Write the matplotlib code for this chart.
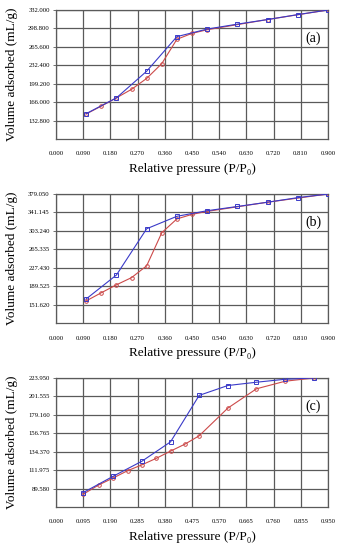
import matplotlib
matplotlib.use("Agg")
import matplotlib.pyplot as plt
import numpy as np

# ---- data (relative pressure, volume adsorbed mL/g) ----
# panel (a)
a_ads_x = [0.10, 0.20, 0.30, 0.40, 0.50, 0.60, 0.70, 0.80, 0.90]
a_ads_y = [145.3, 173.7, 221.7, 284.0, 297.6, 306.5, 314.8, 323.7, 332.0]
a_des_x = [0.10, 0.15, 0.20, 0.25, 0.30, 0.35, 0.40, 0.45, 0.50, 0.70, 0.90]
a_des_y = [144.7, 158.9, 173.7, 189.1, 208.7, 235.4, 279.2, 289.9, 296.4, 314.8, 332.0]
a_yticks = [132.8, 166.0, 199.2, 232.4, 265.6, 298.8, 332.0]
a_xticks = [0.0, 0.09, 0.18, 0.27, 0.36, 0.45, 0.54, 0.63, 0.72, 0.81, 0.90]

# panel (b)
b_ads_x = [0.10, 0.20, 0.30, 0.40, 0.50, 0.60, 0.70, 0.80, 0.90]
b_ads_y = [163.3, 212.5, 307.6, 333.2, 344.7, 353.4, 362.2, 371.6, 379.05]
b_des_x = [0.10, 0.15, 0.20, 0.25, 0.30, 0.35, 0.40, 0.45, 0.50, 0.70, 0.90]
b_des_y = [159.2, 176.0, 192.3, 207.1, 231.4, 299.5, 327.8, 337.2, 343.3, 362.2, 379.05]
b_yticks = [151.62, 189.525, 227.43, 265.335, 303.24, 341.145, 379.05]
b_xticks = [0.0, 0.09, 0.18, 0.27, 0.36, 0.45, 0.54, 0.63, 0.72, 0.81, 0.90]

# panel (c)
c_ads_x = [0.094, 0.20, 0.30, 0.40, 0.50, 0.60, 0.70, 0.80, 0.90]
c_ads_y = [84.5, 104.6, 122.8, 146.3, 202.8, 214.8, 218.8, 222.4, 223.95]
c_des_x = [0.094, 0.15, 0.20, 0.25, 0.30, 0.35, 0.40, 0.45, 0.50, 0.60, 0.70, 0.80, 0.90]
c_des_y = [82.5, 94.1, 102.5, 111.3, 118.4, 126.3, 135.1, 143.5, 153.7, 187.3, 210.8, 220.0, 223.95]
c_yticks = [89.58, 111.975, 134.37, 156.765, 179.16, 201.555, 223.95]
c_xticks = [0.0, 0.095, 0.19, 0.285, 0.38, 0.475, 0.57, 0.665, 0.76, 0.855, 0.95]

SERIF = ["Liberation Serif", "DejaVu Serif"]
plt.rcParams["font.family"] = SERIF
BLUE = "#3a3ac8"
RED = "#cc4a4a"
GRID = "#5a5a5a"

panels = [
    ("(a)", a_ads_x, a_ads_y, a_des_x, a_des_y, a_yticks, a_xticks, 0.7473),
    ("(b)", b_ads_x, b_ads_y, b_des_x, b_des_y, b_yticks, b_xticks, 0.4127),
    ("(c)", c_ads_x, c_ads_y, c_des_x, c_des_y, c_yticks, c_xticks, 0.0782),
]

fig = plt.figure(figsize=(3.4, 5.5), dpi=100)
for tag, ax_x, ax_y, de_x, de_y, yt, xt, bot in panels:
    ax = fig.add_axes([56 / 340, bot, 272 / 340, 129 / 550])
    step = yt[1] - yt[0]
    ax.set_ylim(yt[0] - step, yt[-1])
    ax.set_xlim(xt[0], xt[-1])
    ax.set_yticks(yt)
    ax.set_xticks(xt)
    ax.set_yticklabels([f"{v:.3f}" for v in yt])
    ax.set_xticklabels([f"{v:.3f}" for v in xt])
    ax.grid(True, color=GRID, lw=0.9)
    ax.set_axisbelow(True)
    for s in ax.spines.values():
        s.set_color(GRID)
        s.set_linewidth(0.9)
    ax.tick_params(axis="y", length=2.0, width=0.6, color=GRID, pad=2.5, labelsize=4.8)
    ax.tick_params(axis="x", length=0, pad=9, labelsize=4.8)

    ax.plot(de_x, de_y, color=RED, lw=0.8, marker="o", ms=2.6, mfc="none", mew=0.7, zorder=3)
    ax.plot(ax_x, ax_y, color=BLUE, lw=0.8, marker="s", ms=3.0, mfc="none", mew=0.7, zorder=4)

    ax.set_xlabel("Relative pressure (P/P\u2080)", fontsize=9.5, labelpad=5)
    ax.set_ylabel("Volume adsorbed (mL/g)", fontsize=9.5)
    ax.yaxis.set_label_coords(-0.14, 0.5)
    ax.text(0.975, 0.78, tag, transform=ax.transAxes, ha="right", va="center",
            fontsize=10)

fig.savefig("out.png", dpi=100, facecolor="white")
